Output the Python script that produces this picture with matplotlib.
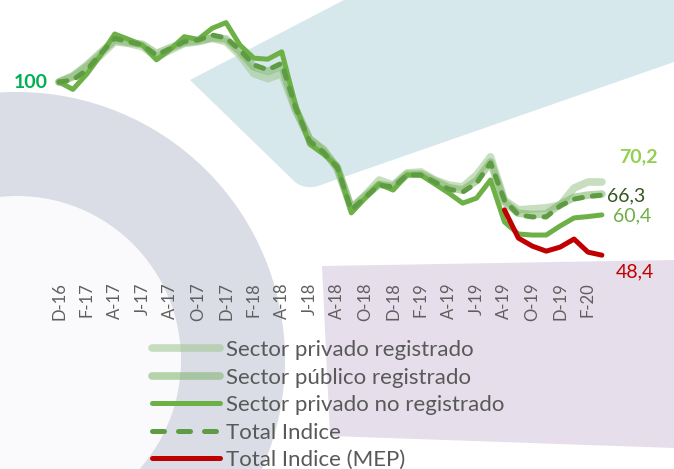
import matplotlib
matplotlib.use("Agg")
import matplotlib.pyplot as plt
import numpy as np
from matplotlib.patches import Polygon, Circle, PathPatch
from matplotlib.path import Path
from matplotlib.lines import Line2D

# ---------------- data ----------------
tick_labels = ["D-16", "F-17", "A-17", "J-17", "A-17", "O-17", "D-17", "F-18", "A-18", "J-18",
               "A-18", "O-18", "D-18", "F-19", "A-19", "J-19", "A-19", "O-19", "D-19", "F-20"]

privado_registrado = [100, 101.5, 104.5, 108.0, 112.0, 111.5, 110.5, 107.5, 109.5, 111.5,
                      112.0, 113.0, 112.0, 108.0, 102.5, 101.0, 102.5, 91.5, 83.0, 80.0,
                      74.0, 62.5, 66.3, 70.8, 69.3, 72.9, 73.2, 70.8, 69.3, 68.7,
                      72.3, 77.7, 64.8, 61.9, 62.2, 62.5, 63.3, 68.4, 70.2, 70.2]

publico_registrado = [100, 101.8, 105.0, 108.8, 112.5, 111.8, 111.2, 108.5, 110.2, 111.8,
                      112.3, 113.2, 112.8, 109.0, 104.5, 103.2, 104.8, 92.0, 83.0, 79.5,
                      74.5, 62.3, 66.0, 69.5, 68.8, 72.5, 72.6, 70.5, 68.5, 67.8,
                      70.6, 76.2, 64.2, 60.9, 60.5, 60.6, 63.5, 65.6, 66.3, 66.6]

privado_no_registrado = [100, 97.8, 102.4, 108.0, 114.3, 112.7, 111.0, 106.6, 109.7, 113.5,
                         112.7, 116.0, 117.7, 111.0, 107.1, 106.8, 109.0, 93.1, 81.5, 78.5,
                         75.0, 61.0, 65.4, 69.6, 67.8, 72.3, 72.3, 69.6, 66.9, 63.9,
                         65.4, 70.8, 58.3, 54.7, 54.4, 54.4, 57.1, 59.5, 59.9, 60.4]

total_indice = [100, 100.6, 103.6, 108.5, 113.0, 112.0, 111.0, 108.0, 110.0, 112.0,
                112.5, 114.0, 113.1, 109.5, 105.1, 103.6, 105.6, 92.3, 82.4, 79.1,
                74.4, 61.9, 65.7, 69.3, 68.7, 72.3, 72.3, 70.2, 68.1, 67.2,
                69.9, 75.9, 64.8, 60.4, 59.8, 59.8, 63.1, 65.1, 65.9, 66.3]

# MEP series starts in Aug-19 (month index 32)
mep_start = 32
total_mep = [61.9, 53.5, 51.1, 49.6, 50.8, 53.2, 49.3, 48.4]

# ---------------- figure ----------------
W, H = 674, 469
fig = plt.figure(figsize=(W / 100, H / 100), dpi=100)
plt.rcParams['font.family'] = ['Lato', 'DejaVu Sans']

# background decoration in pixel space
bg = fig.add_axes([0, 0, 1, 1], zorder=0)
bg.set_xlim(0, W)
bg.set_ylim(H, 0)
bg.axis("off")

# gray ring
bg.add_patch(Circle((17, 360), 268, facecolor="#dadce6", edgecolor="none"))
bg.add_patch(Circle((17, 360), 164, facecolor="#fafafc", edgecolor="none"))

# blue band
verts = [(190, 80), (344, 0), (674, 0), (674, 62), (318, 186), (305, 190), (295, 182), (190, 80)]
codes = [Path.MOVETO, Path.LINETO, Path.LINETO, Path.LINETO, Path.LINETO,
         Path.CURVE3, Path.CURVE3, Path.CLOSEPOLY]
bg.add_patch(PathPatch(Path(verts, codes), facecolor="#d6e8ec", edgecolor="none"))

# purple block
bg.add_patch(Polygon([(322, 266), (674, 260), (674, 448), (330, 436)], closed=True,
                     facecolor="#e6dfeb", edgecolor="none"))

# main axes
ax = fig.add_axes([0, (H - 278) / H, 1, 278 / H], zorder=1)
ax.patch.set_alpha(0)
x0 = 59.0
step = 13.92
ax.set_xlim((0 - x0) / step, (W - x0) / step)
ax.set_ylim(100 - (278 - 82) / 3.356, 100 + 82 / 3.356)

n = len(total_indice)
x = np.arange(n)
xm = np.arange(mep_start, mep_start + len(total_mep))

l1, = ax.plot(x, privado_registrado, color="#a3c995", alpha=0.6, lw=5.5,
              solid_capstyle="round", solid_joinstyle="round", label="Sector privado registrado", zorder=2)
l2, = ax.plot(x, publico_registrado, color="#7db367", alpha=0.55, lw=5.5,
              solid_capstyle="round", solid_joinstyle="round", label="Sector público registrado", zorder=2)
l3, = ax.plot(x, privado_no_registrado, color="#6db146", lw=3.6,
              solid_capstyle="round", solid_joinstyle="round", label="Sector privado no registrado", zorder=3)
l4, = ax.plot(x, total_indice, color="#5d9c42", lw=3.6, dashes=(1.6, 2.0),
              dash_capstyle="round", dash_joinstyle="round", label="Total Indice", zorder=4)
l5, = ax.plot(xm, total_mep, color="#c00000", lw=3.6,
              solid_capstyle="round", solid_joinstyle="round", label="Total Indice (MEP)", zorder=5)

ax.set_xticks(np.arange(0, n, 2))
ax.set_xticklabels(tick_labels, rotation=90, fontsize=12, color="#5f5f5f")
ax.tick_params(axis="x", length=0, pad=3)
ax.set_yticks([])
for s in ax.spines.values():
    s.set_visible(False)


def fmt(v):
    return f"{v:.1f}".replace(".", ",")


# value labels
ax.annotate("100", xy=(0, privado_no_registrado[0]), xytext=(-28, 0), textcoords="offset pixels",
            ha="center", va="center", fontsize=14, fontweight="bold", color="#00b050")
last = n - 1
ax.annotate(fmt(privado_registrado[-1]), xy=(last, privado_registrado[-1]), xytext=(36, 25),
            textcoords="offset pixels", ha="center", va="center", fontsize=14,
            fontweight="bold", color="#92d050")
ax.annotate(fmt(total_indice[-1]), xy=(last, total_indice[-1]), xytext=(24, -1),
            textcoords="offset pixels", ha="center", va="center", fontsize=14, color="#375623")
ax.annotate(fmt(privado_no_registrado[-1]), xy=(last, privado_no_registrado[-1]), xytext=(30, -1),
            textcoords="offset pixels", ha="center", va="center", fontsize=14, color="#70ad47")
ax.annotate(fmt(total_mep[-1]), xy=(xm[-1], total_mep[-1]), xytext=(33, -17),
            textcoords="offset pixels", ha="center", va="center", fontsize=14, color="#c00000")

# legend proxy for the dashed series (three longer dashes as in the legend sample)
h4 = Line2D([], [], color="#5d9c42", lw=3.6, dashes=(2.4, 2.8), dash_capstyle="round",
            label="Total Indice")

leg = fig.legend(handles=[l1, l2, l3, h4, l5], loc="upper left",
                 bbox_to_anchor=(152 / W, 1 - 340 / H), frameon=False,
                 fontsize=16, handlelength=3.05, handletextpad=0.3, labelspacing=0.34,
                 borderaxespad=0, borderpad=0)
for t in leg.get_texts():
    t.set_color("#595959")

fig.savefig("out.png", dpi=100)
